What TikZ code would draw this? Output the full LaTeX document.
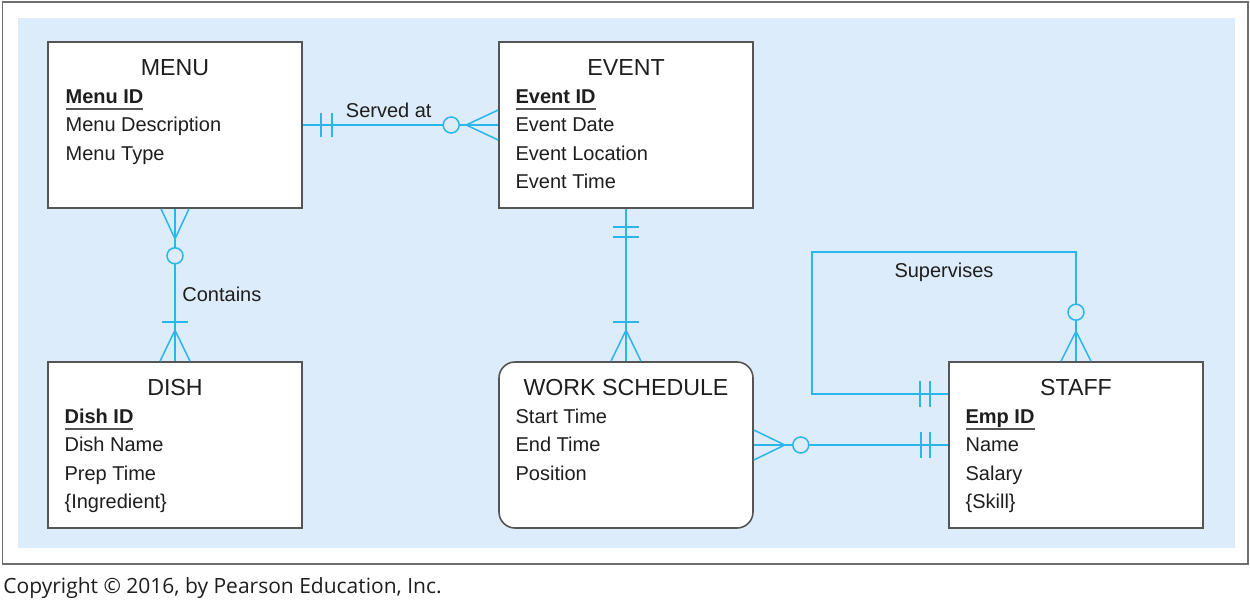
\documentclass[tikz,border=0pt]{standalone}
\usepackage{fontspec}
\setmainfont{Liberation Sans}
\newfontfamily\notefont{Open Sans}
\usetikzlibrary{positioning,calc}
\definecolor{erline}{RGB}{41,182,235}
\definecolor{bgblue}{RGB}{220,236,250}
\definecolor{boxgray}{RGB}{85,85,85}
\definecolor{framegray}{RGB}{110,110,110}
\definecolor{ink}{RGB}{30,30,30}
\newcommand{\pkey}[1]{\setbox0=\hbox{\bfseries #1}\rlap{\color{boxgray}\rule[-3.4pt]{\wd0}{0.8pt}}\box0}
\tikzset{
  entity/.style={ draw=boxgray, line width=0.8pt, fill=white, minimum width=127pt, minimum height=83pt, inner sep=0pt }
}
\tikzset{
  wsbox/.style={ entity, rounded corners=8pt }
}
\tikzset{
  etitle/.style={ anchor=base, font=\fontsize{11.6}{14}\selectfont, text=ink, inner sep=0pt }
}
\tikzset{
  attr/.style={ anchor=base west, font=\fontsize{10}{12}\selectfont, text=ink, inner sep=0pt }
}
\tikzset{
  rel/.style={ draw=erline, line width=0.75pt }
}
\tikzset{
  rlab/.style={ font=\fontsize{10}{12}\selectfont, text=ink }
}

\begin{document}
\begin{tikzpicture}[x=0.5pt, y=-0.5pt]
        \useasboundingbox (0,0) rectangle (1250,610);
        \fill[white] (0,0) rectangle (1250,610);
        \draw[framegray, line width=0.6pt] (2.5,2) rectangle (1248,564);
        \fill[bgblue] (18,18) rectangle (1235,548);
        % entities
        \node[entity] (menu) at (175,125) {};
        \node[entity] (event) at (626,125) {};
        \node[entity] (dish) at (175,445) {};
        \node[wsbox] (ws) at (626,445) {};
        \node[entity] (staff) at (1076,445) {};
        % menu
        \node[etitle] (menuT) at ($(menu.north)+(0,34)$) {MENU};
        \node[attr] (menuA1) at ($(menu.north west)+(18,62)$) {\pkey{Menu ID}};
        \node[attr] (menuA2) at ($(menu.north west)+(18,90.5)$) {Menu Description};
        \node[attr] (menuA3) at ($(menu.north west)+(18,119)$) {Menu Type};
        % event
        \node[etitle] (eventT) at ($(event.north)+(0,34)$) {EVENT};
        \node[attr] (eventA1) at ($(event.north west)+(17,62)$) {\pkey{Event ID}};
        \node[attr] (eventA2) at ($(event.north west)+(17,90.5)$) {Event Date};
        \node[attr] (eventA3) at ($(event.north west)+(17,119)$) {Event Location};
        \node[attr] (eventA4) at ($(event.north west)+(17,147.5)$) {Event Time};
        % dish
        \node[etitle] (dishT) at ($(dish.north)+(0,34)$) {DISH};
        \node[attr] (dishA1) at ($(dish.north west)+(17,62)$) {\pkey{Dish ID}};
        \node[attr] (dishA2) at ($(dish.north west)+(17,90.5)$) {Dish Name};
        \node[attr] (dishA3) at ($(dish.north west)+(17,119)$) {Prep Time};
        \node[attr] (dishA4) at ($(dish.north west)+(17,147.5)$) {\{Ingredient\}};
        % work schedule
        \node[etitle] (wsT) at ($(ws.north)+(0,34)$) {WORK SCHEDULE};
        \node[attr] (wsA1) at ($(ws.north west)+(17,62)$) {Start Time};
        \node[attr] (wsA2) at ($(ws.north west)+(17,90.5)$) {End Time};
        \node[attr] (wsA3) at ($(ws.north west)+(17,119)$) {Position};
        % staff
        \node[etitle] (staffT) at ($(staff.north)+(0,34)$) {STAFF};
        \node[attr] (staffA1) at ($(staff.north west)+(17,62)$) {\pkey{Emp ID}};
        \node[attr] (staffA2) at ($(staff.north west)+(17,90.5)$) {Name};
        \node[attr] (staffA3) at ($(staff.north west)+(17,119)$) {Salary};
        \node[attr] (staffA4) at ($(staff.north west)+(17,147.5)$) {\{Skill\}};
        % served at
        \draw[rel] (menu.east) -- node[rlab, above=0pt, pos=0.44, inner sep=3.5pt] {Served at} (event.west);
        \draw[rel] ($(menu.east)+(18,-12)$) -- ++(0,24);
        \draw[rel] ($(menu.east)+(29,-12)$) -- ++(0,24);
        \draw[rel] ($(event.west)+(0,-15)$) -- ++(-32,15) -- ++(32,15);
        \draw[rel, fill=bgblue] ($(event.west)+(-47,0)$) circle[radius=4pt];
        % contains
        \draw[rel] (menu.south) -- node[rlab, right, pos=0.56] {Contains} (dish.north);
        \draw[rel] ($(menu.south)+(-14,0)$) -- ++(14,30) -- ++(14,-30);
        \draw[rel, fill=bgblue] ($(menu.south)+(0,47)$) circle[radius=4pt];
        \draw[rel] ($(dish.north)+(-13,-39)$) -- ++(26,0);
        \draw[rel] ($(dish.north)+(-15,0)$) -- ++(15,-31) -- ++(15,31);
        % event - work schedule
        \draw[rel] (event.south) -- (ws.north);
        \draw[rel] ($(event.south)+(-13,18)$) -- ++(26,0);
        \draw[rel] ($(event.south)+(-13,28)$) -- ++(26,0);
        \draw[rel] ($(ws.north)+(-13,-39)$) -- ++(26,0);
        \draw[rel] ($(ws.north)+(-15,0)$) -- ++(15,-31) -- ++(15,31);
        % work schedule - staff
        \draw[rel] (ws.east) -- (staff.west);
        \draw[rel] ($(ws.east)+(0,-15)$) -- ++(31,15) -- ++(-31,15);
        \draw[rel, fill=bgblue] ($(ws.east)+(47,0)$) circle[radius=4pt];
        \draw[rel] ($(staff.west)+(-27,-13)$) -- ++(0,26);
        \draw[rel] ($(staff.west)+(-18,-13)$) -- ++(0,26);
        % supervises
        \coordinate (svA) at (812,394);
        \coordinate (svB) at (812,252);
        \coordinate (svC) at (1076,252);
        \draw[rel] (staff.west |- svA) -- (svA) -- (svB) -- node[rlab, below=2pt] {Supervises} (svC) -- (staff.north -| svC);
        \draw[rel] ($(staff.west |- svA)+(-28,-13)$) -- ++(0,26);
        \draw[rel] ($(staff.west |- svA)+(-18,-13)$) -- ++(0,26);
        \draw[rel, fill=bgblue] ($(staff.north)+(0,-49)$) circle[radius=4pt];
        \draw[rel] ($(staff.north)+(-15,0)$) -- ++(15,-30) -- ++(15,30);
        % note
        \node[anchor=base west, font=\notefont\fontsize{10.5}{12}\selectfont, text=ink, inner sep=0pt] (copy) at (3,593) {Copyright © 2016, by Pearson Education, Inc.};
      \end{tikzpicture}
\end{document}
